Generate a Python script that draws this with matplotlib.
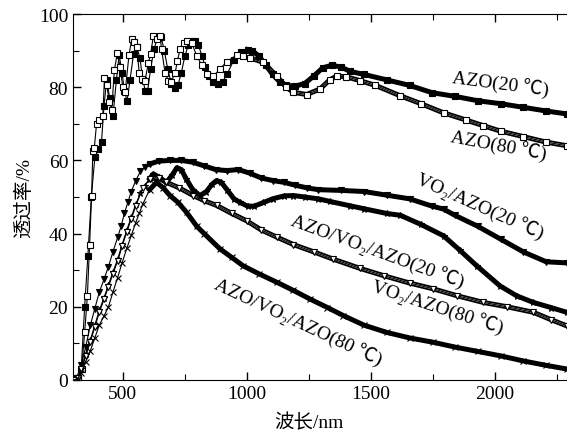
import numpy as np
import matplotlib.pyplot as plt

plt.rcParams['font.family'] = ['Liberation Serif', 'Noto Sans CJK SC']
plt.rcParams['font.size'] = 14

# AZO (20 C) - filled squares
azo20_x = [305, 319, 333, 347, 360, 374, 388, 402, 415, 425, 436, 448, 461, 475, 486, 498,
           507, 518, 530, 544, 557, 570, 581, 592, 601, 613, 627, 641, 655, 668, 682, 696,
           710, 723, 737, 751, 765, 779, 792, 806, 820, 834, 848, 866, 884, 903, 921, 949,
           976, 1004, 1022, 1050, 1077, 1105, 1133, 1160, 1197, 1234, 1270, 1307, 1344,
           1381, 1418, 1473, 1565, 1657, 1748, 1840, 1932, 2024, 2116, 2208, 2291]
azo20_y = [0, 0.5, 3, 20, 34, 50, 60.8, 63, 65, 75, 82, 77, 72, 82, 88.8, 84,
           79, 76.3, 82, 89, 91, 88, 82, 79, 79, 85, 90.5, 93.5, 93.8, 90, 85, 81,
           79.7, 80.5, 84, 88.5, 91.5, 92.5, 92.7, 91.5, 88.5, 85.5, 83, 81.5, 81, 81.5, 83.5, 87.5,
           89.5, 90.3, 90, 88.5, 86, 83.5, 81.5, 80.5, 80.3, 81, 83, 85.3, 86,
           85.5, 84.3, 83.5, 82, 80.5, 78.5, 77.5, 76.3, 75.5, 74.5, 73.5, 72.7]

# AZO (80 C) - open squares
azo80_x = [305, 319, 335, 347, 358, 367, 375, 380, 386, 395, 406, 420, 427, 436, 447, 456,
           467, 479, 490, 501, 510, 526, 537, 546, 557, 567, 577, 590, 604, 613, 624, 638,
           651, 657, 671, 685, 695, 712, 721, 732, 746, 758, 779, 799, 819, 839, 866, 893,
           920, 960, 985, 1014, 1067, 1122, 1160, 1189, 1242, 1296, 1335, 1363, 1399, 1457,
           1519, 1618, 1703, 1794, 1886, 1954, 2024, 2116, 2208, 2291]
azo80_y = [0, 0.5, 3, 13, 23, 37, 50.4, 62.5, 63.5, 70, 71, 72, 82.5, 80.5, 76, 73.8,
           84.8, 89.3, 85.4, 80, 78.6, 88.9, 93.2, 92.3, 90.9, 84, 82.2, 81.7, 86.7, 89, 94, 93.2,
           94, 90.4, 84, 81.7, 81.3, 84, 87.2, 90.4, 92, 92.7, 92, 88.6, 86, 83.6, 83, 85,
           87, 88.8, 88.6, 88, 86.8, 83, 80, 78.6, 78, 79.5, 82, 83, 82.9, 81.8,
           80.5, 77.7, 75.5, 73, 71, 69.5, 68, 66.5, 65, 64]

# VO2/AZO (20 C) - filled triangles
vo20_x = [305, 314, 333, 351, 370, 388, 406, 425, 443, 461, 480, 494, 507, 521, 535, 553,
          572, 590, 609, 645, 691, 737, 783, 829, 875, 921, 967, 1013, 1059, 1105, 1151,
          1197, 1243, 1289, 1381, 1473, 1565, 1657, 1748, 1794, 1840, 1932, 2024, 2116,
          2208, 2291]
vo20_y = [0, 0.5, 4, 9, 15, 19.5, 24, 27.5, 31, 35, 39, 42, 45.5, 48.5, 51.5, 54.5,
          57, 58.3, 59, 59.8, 60, 60, 59.5, 58.5, 57.5, 57.2, 57.5, 56.5, 55.2, 54.5, 54,
          53.2, 52.5, 52, 51.8, 51.5, 50.5, 49.5, 47.5, 46.7, 45, 42, 38.5, 35,
          32.3, 32]

# AZO/VO2/AZO (20 C) - stars
avA20_x = [305, 319, 333, 351, 370, 388, 406, 425, 443, 461, 480, 498, 517, 535, 553, 572,
           590, 609, 624, 645, 677, 700, 719, 737, 756, 783, 812, 838, 861, 879, 898, 921,
           949, 974, 1004, 1031, 1068, 1105, 1151, 1189, 1234, 1289, 1335, 1417, 1473,
           1565, 1620, 1703, 1794, 1859, 1928, 2022, 2089, 2156, 2227, 2291]
avA20_y = [0, 0.5, 3, 7, 11, 15, 19, 22.5, 26, 29.5, 33, 37, 41, 44.5, 48, 51,
           53, 55, 56.3, 55.5, 54, 56, 58, 57.5, 55, 52, 50.4, 51.5, 53.5, 54.5, 54, 52,
           49.5, 48.5, 47.5, 47.5, 48.5, 49.5, 50.3, 50.4, 50, 49.5, 48.8, 47.6, 46.8,
           45.5, 45, 42.5, 39.4, 35.5, 31.2, 25.7, 23, 21.2, 19.8, 18.5]

# VO2/AZO (80 C) - open triangles
vo80_x = [305, 319, 333, 351, 370, 388, 406, 425, 443, 461, 480, 498, 517, 535, 553, 581,
          610, 645, 677, 728, 785, 829, 879, 940, 1000, 1059, 1123, 1189, 1271, 1350,
          1457, 1553, 1657, 1753, 1850, 1954, 2051, 2156, 2227, 2291]
vo80_y = [0, 0.5, 3, 6.5, 10.5, 14.5, 18.5, 22, 25.5, 29, 32.5, 36.5, 40.5, 44, 47.5, 52.5,
          55, 55.2, 54, 52.5, 50.4, 49, 47.7, 45.5, 43.5, 41, 39, 37, 35, 33,
          30.5, 28.5, 26.5, 24.9, 23, 21.2, 20, 18.5, 16.5, 14.8]

# AZO/VO2/AZO (80 C) - crosses
avA80_x = [305, 319, 333, 351, 370, 388, 406, 425, 443, 461, 480, 498, 517, 535, 553, 567,
           581, 609, 637, 664, 691, 724, 758, 799, 829, 893, 940, 986, 1050, 1122, 1188,
           1256, 1326, 1390, 1473, 1565, 1657, 1753, 1840, 1932, 2024, 2116, 2208, 2291]
avA80_y = [0, 0.3, 2, 5, 8, 11.5, 15, 17.5, 20, 24, 28, 32, 36, 39.5, 43, 45.5,
           48, 52, 54, 52.5, 50.4, 48.5, 45.8, 42, 40, 35.8, 33.5, 31.2, 29, 26.7, 24.5,
           22.1, 19.8, 17.6, 15, 13, 11.5, 10.3, 9, 7.8, 6.6, 5.2, 4, 3]

fig = plt.figure(figsize=(5.67, 4.39), dpi=100)
ax = fig.add_axes([73 / 567, 58 / 439, 496 / 567, 366 / 439])


def draw(xs, ys, marker, filled, band_from, ms=4.0):
    xs = np.array(xs)
    ys = np.array(ys)
    m = xs >= band_from
    # dense part: markers overlap into a thick band
    ax.plot(xs[m], ys[m], color='k', lw=3.6, solid_joinstyle='round', zorder=2)
    if not filled:
        ax.plot(xs[m], ys[m], color='white', lw=1.0, zorder=3)
    face = 'k' if filled else 'white'
    ax.plot(xs, ys, color='k', lw=0.8, marker=marker, ms=ms, mfc=face, mec='k',
            mew=0.8, zorder=4)


draw(azo20_x, azo20_y, 's', True, 1000)
draw(azo80_x, azo80_y, 's', False, 1000)
draw(vo20_x, vo20_y, 'v', True, 600, ms=4.5)
draw(avA20_x, avA20_y, '*', True, 600, ms=5)
draw(vo80_x, vo80_y, 'v', False, 600, ms=4.5)
draw(avA80_x, avA80_y, 'x', True, 600, ms=4)

ax.set_xlim(300, 2300)
ax.set_ylim(0, 100)
ax.set_xticks([500, 1000, 1500, 2000])
ax.set_xticks([750, 1250, 1750, 2250], minor=True)
ax.set_yticks([0, 20, 40, 60, 80, 100])
ax.set_yticks([10, 30, 50, 70, 90], minor=True)
ax.tick_params(which='both', direction='in', top=True, right=False)
ax.tick_params(which='major', length=6, width=1)
ax.tick_params(which='minor', length=4, width=0.8)
ax.spines['right'].set_visible(False)

ax.set_xlabel('波长/nm')
ax.xaxis.set_label_coords(0.476, -0.09)
ax.set_ylabel('透过率/%')
ax.yaxis.set_label_coords(-0.08, 0.5)

labels = [
    ('AZO(20 ℃)', 2022, 80.9, -7.5),
    ('AZO(80 ℃)', 2014, 64.2, -10.5),
    ('VO₂/AZO(20 ℃)', 1941, 47.5, -24),
    ('AZO/VO₂/AZO(20 ℃)', 1526, 35.2, -20),
    ('VO₂/AZO(80 ℃)', 1768, 19.9, -18),
    ('AZO/VO₂/AZO(80 ℃)', 1207, 15.8, -25),
]
for txt, lx, ly, rot in labels:
    ax.text(lx, ly, txt, rotation=rot, ha='center', va='center',
            rotation_mode='anchor', fontsize=14)

fig.savefig('out.png', dpi=100)
